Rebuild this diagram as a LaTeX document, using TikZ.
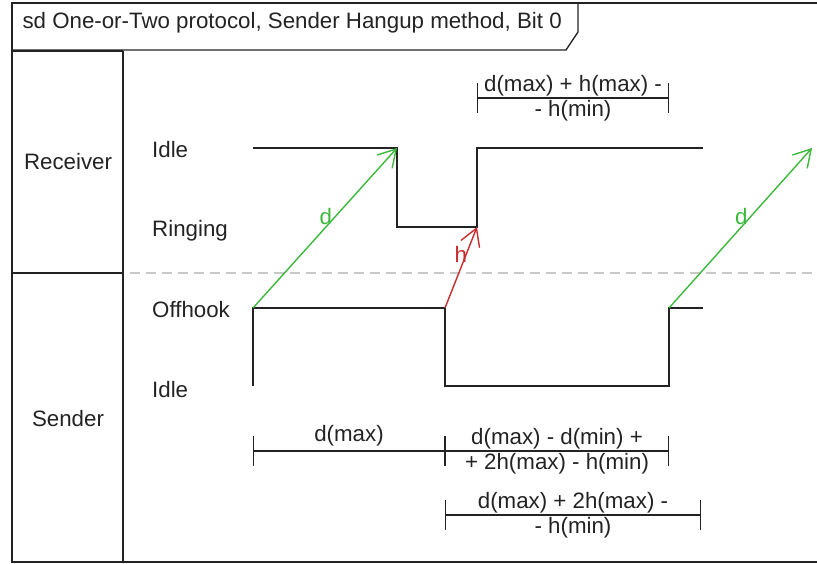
\documentclass[tikz,border=0pt]{standalone}
\usepackage{fontspec}
\setmainfont{Liberation Sans}
\usepackage{xcolor}
\usetikzlibrary{arrows.meta}
\definecolor{ink}{RGB}{35,35,35}
\definecolor{dgreen}{RGB}{60,185,60}
\definecolor{hred}{RGB}{200,45,45}
\definecolor{lanegray}{RGB}{200,200,200}

\begin{document}
\begin{tikzpicture}[x=1pt, y=-1pt, font=\fontsize{22.3}{25}\selectfont,
    wave/.style={ink, line width=1.5pt},
    msg/.style={line width=1.4pt, -{Straight Barb[length=17pt,width=20pt]}},
    span/.style={ink, line width=1.3pt, {Bar[width=30pt]}-{Bar[width=30pt]}},
    state/.style={anchor=west, inner sep=0pt, text=ink}]
    \useasboundingbox (0,0) rectangle (817,564);
    % frame and title tab
    \draw[ink, line width=1.3pt] (817,3) -- (12,3) -- (12,562) -- (817,562);
    \draw[ink, line width=1.3pt] (12,50) -- (566,50) -- (578,32) -- (578,3);
    \node[anchor=west, text=ink] (title) at (19,23) {sd One-or-Two protocol, Sender Hangup method, Bit 0};
    % lifelines
    \draw[ink, line width=2.5pt] (12,51) -- (123,51);
    \draw[ink, line width=2.5pt] (12,273) -- (123,273);
    \draw[ink, line width=1.3pt] (123,51) -- (123,562);
    \draw[lanegray, line width=1.3pt, dash pattern=on 10pt off 6pt] (130,273) -- (817,273);
    \node[text=ink] (receiver) at (68,162) {Receiver};
    \node[text=ink] (sender) at (68,419) {Sender};
    % states
    \node[state] (ridle) at (152,150) {Idle};
    \node[state] (ring) at (152,231) {Ringing};
    \node[state] (offhook) at (152,310) {Offhook};
    \node[state] (sidle) at (152,390) {Idle};
    % time points on the waves
    \coordinate (s0) at (253,308);
    \coordinate (r1) at (397,148);
    \coordinate (s2) at (445,308);
    \coordinate (r3) at (477,227);
    \coordinate (s4) at (669,308);
    \coordinate (r6) at (812,148);
    \draw[wave] (253,148) -- (r1) -- (397,227) -- (r3) -- (477,148) -- (703,148);
    \draw[wave] (253,386) -- (s0) -- (s2) -- (445,386) -- (669,386) -- (s4) -- (703,308);
    % messages
    \draw[msg, dgreen] (s0) -- (r1) node[pos=0.57, left=-1pt, text=dgreen] {d};
    \draw[msg, hred] (s2) -- (r3) node[pos=0.66, left=-5pt, text=hred] {h};
    \draw[msg, dgreen] (s4) -- (r6) node[pos=0.57, left=-1pt, text=dgreen] {d};
    % durations
    \draw[span] (477,98) -- (669,98) node[midway, align=center, text=ink] {d(max) + h(max) -\\- h(min)};
    \draw[span] (253,451) -- (445,451) node[midway, above=1pt, text=ink] {d(max)};
    \draw[span] (445,451) -- (669,451) node[midway, align=center, text=ink] {d(max) - d(min) +\\+ 2h(max) - h(min)};
    \draw[span] (445,515) -- (701,515) node[midway, align=center, text=ink] {d(max) + 2h(max) -\\- h(min)};
\end{tikzpicture}
\end{document}
